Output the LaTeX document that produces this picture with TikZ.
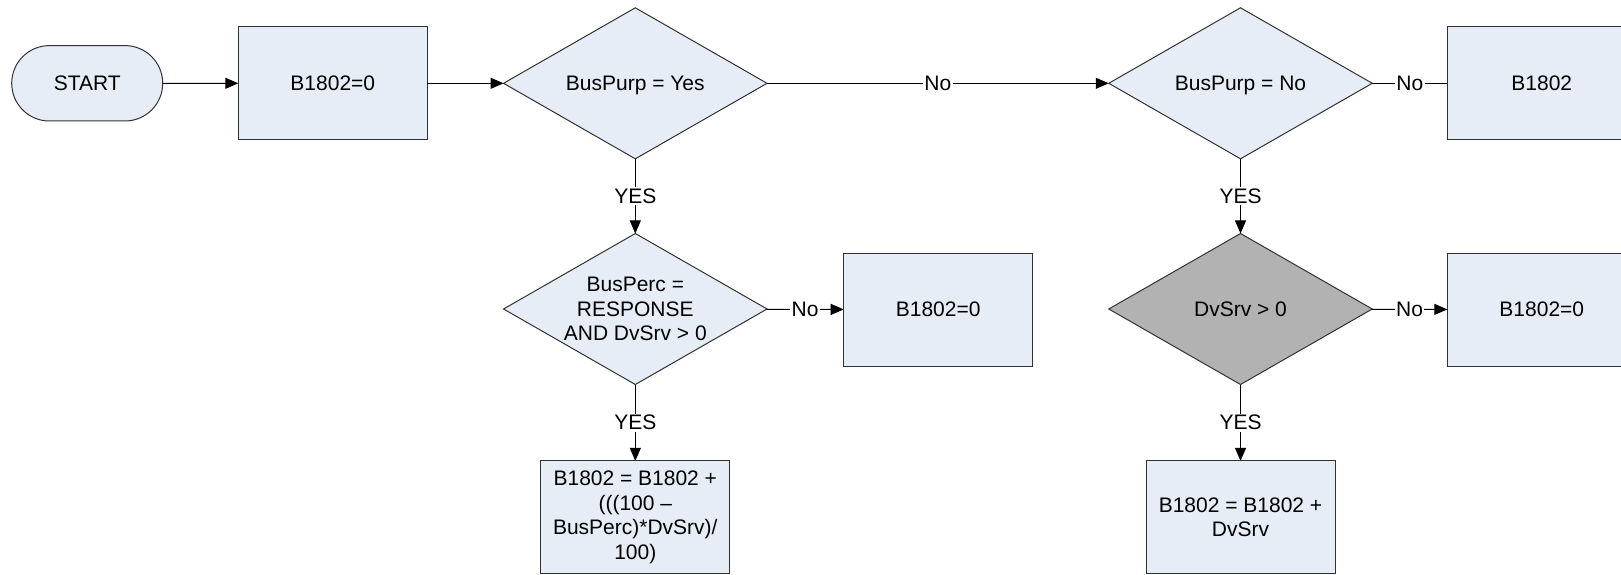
\documentclass[tikz,border=0pt]{standalone}
\usepackage{fontspec}
\setmainfont{Liberation Sans}
\usetikzlibrary{shapes.geometric,shapes.misc,arrows.meta}
\definecolor{boxfill}{RGB}{230,237,247}
\definecolor{edgecol}{RGB}{50,50,50}
\definecolor{dgray}{RGB}{178,178,178}
\begin{document}
\begin{tikzpicture}[x=1pt,y=-1pt,
  font=\fontsize{21}{24.5}\selectfont,
  proc/.style={draw=edgecol, fill=boxfill, line width=1pt, minimum width=189pt, minimum height=113pt, inner sep=0pt, outer sep=0pt, align=center},
  dec/.style={diamond, draw=edgecol, fill=boxfill, line width=1pt, minimum width=263.5pt, minimum height=151pt, inner sep=0pt, outer sep=0pt, aspect=1.75, align=center, text depth=0pt},
  term/.style={rounded rectangle, draw=edgecol, fill=boxfill, line width=1pt, minimum width=151pt, minimum height=75.4pt, inner sep=0pt, outer sep=0pt},
  conn/.style={line width=1pt, -{Triangle[length=13pt,width=11pt]}},
  plain/.style={line width=1pt},
  lbl/.style={fill=white, inner sep=1.5pt}]
\useasboundingbox (0,0) rectangle (1621,575);
\clip (0,0) rectangle (1621,575);
\node[term] (start) at (87.2,83.3) {START};
\node[proc] (b1) at (332.8,83.3) {B1802=0};
\node[dec] (d1) at (635.3,83.3) {BusPurp = Yes};
\node[dec] (d2) at (1240.5,83.3) {BusPurp = No};
\node[proc] (b2) at (1541.8,83.3) {B1802};
\node[dec] (d3) at (635.3,309) {BusPerc =\\RESPONSE\\AND DvSrv > 0};
\node[proc] (b3) at (938.2,309.6) {B1802=0};
\node[proc] (b4) at (635.3,517.4) {B1802 = B1802 +\\(((100 –\\BusPerc)*DvSrv)/\\100)};
\node[dec, fill=dgray] (d4) at (1240.5,309) {DvSrv > 0};
\node[proc] (b5) at (1541.8,309.6) {B1802=0};
\node[proc] (b6) at (1240.5,517.4) {B1802 = B1802 +\\DvSrv};
\draw[conn] (start) -- (b1);
\draw[conn] (b1) -- (d1);
\draw[conn] (d1) -- node[lbl]{No} (d2);
\draw[plain] (d2) -- node[lbl]{No} (b2);
\draw[conn] (d1) -- node[lbl]{YES} (d3);
\draw[conn] (d3) -- node[lbl]{No} (b3);
\draw[conn] (d3) -- node[lbl]{YES} (b4);
\draw[conn] (d2) -- node[lbl]{YES} (d4);
\draw[conn] (d4) -- node[lbl]{No} (b5);
\draw[conn] (d4) -- node[lbl]{YES} (b6);
\end{tikzpicture}
\end{document}
